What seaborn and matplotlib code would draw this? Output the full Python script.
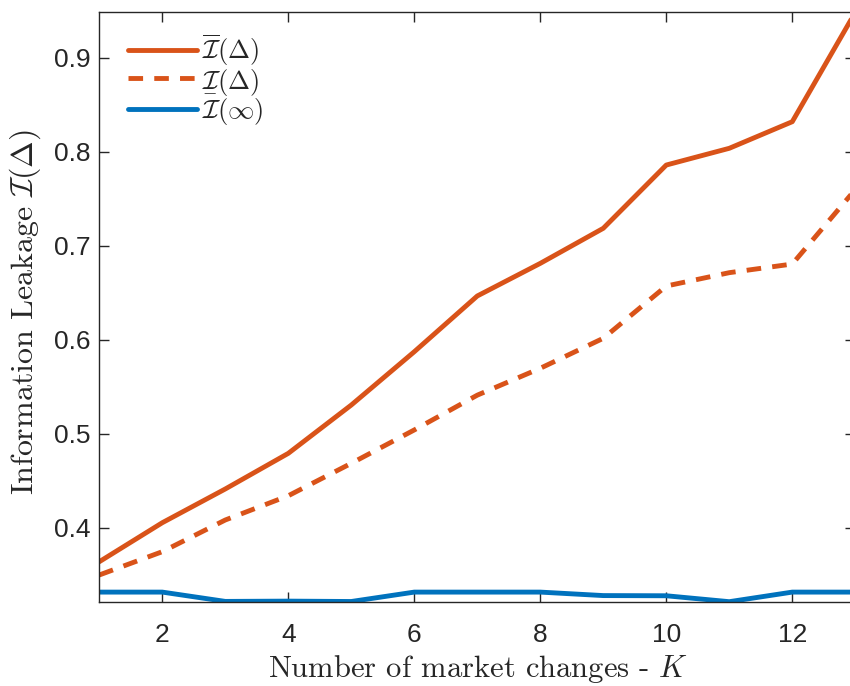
import matplotlib
matplotlib.use("Agg")
import matplotlib.pyplot as plt
from matplotlib.mathtext import MathTextParser
import numpy as np
import pandas as pd
import seaborn as sns

# Number of market changes K
k_values = list(range(1, 14))

# Upper bound on information leakage
leak_upper = [0.3638, 0.4053, 0.4412, 0.4791, 0.5305, 0.5872, 0.6465,
              0.6812, 0.7185, 0.7858, 0.8036, 0.8319, 0.9483]
# Lower bound on information leakage
leak_lower = [0.3497, 0.3745, 0.4082, 0.4340, 0.4685, 0.5040, 0.5410,
              0.5696, 0.6015, 0.6571, 0.6713, 0.6805, 0.7597]
# Asymptotic leakage
leak_inf = [0.3315, 0.3315, 0.3216, 0.3219, 0.3215, 0.3315, 0.3315,
            0.3315, 0.3278, 0.3276, 0.3213, 0.3315, 0.3315]

x_ticks = [2, 4, 6, 8, 10, 12]
y_ticks = [0.4, 0.5, 0.6, 0.7, 0.8, 0.9]

sns.set_theme(style="ticks")
plt.rcParams["font.family"] = ["Liberation Sans", "DejaVu Sans"]
plt.rcParams["mathtext.fontset"] = "cm"


def first_parsable(candidates):
    parser = MathTextParser("agg")
    for c in candidates:
        try:
            parser.parse(c, dpi=100)
            return c
        except Exception:
            continue
    return candidates[-1]


lower_label = first_parsable([
    r"$\underset{-}{\mathcal{I}}(\Delta)$",
    r"$\underset{\_}{\mathcal{I}}(\Delta)$",
    r"$\mathcal{I}_{-}(\Delta)$",
])
x_label = first_parsable([
    r"$\text{Number of market changes -}\ K$",
    r"$\mathrm{Number\ of\ market\ changes}$ - $K$",
])
y_label = first_parsable([
    r"$\text{Information Leakage}\ \mathcal{I}(\Delta)$",
    r"$\mathrm{Information\ Leakage}\ \mathcal{I}(\Delta)$",
])

ORANGE = "#D95319"
BLUE = "#0072BD"
AX_COLOR = "#262626"

df = pd.DataFrame({"K": k_values, "upper": leak_upper,
                   "lower": leak_lower, "inf": leak_inf})

fig = plt.figure(figsize=(8.5, 6.86), dpi=100)
ax = fig.add_axes([0.1168, 0.1229, 0.8894, 0.8592])

lw = 3.5
sns.lineplot(data=df, x="K", y="upper", ax=ax, color=ORANGE, lw=lw,
             label=r"$\overline{\mathcal{I}}(\Delta)$")
sns.lineplot(data=df, x="K", y="lower", ax=ax, color=ORANGE, lw=lw,
             label=lower_label)
sns.lineplot(data=df, x="K", y="inf", ax=ax, color=BLUE, lw=lw,
             label=r"$\mathcal{I}(\infty)$")
ax.lines[1].set_dashes([3.0, 2.3])

ax.set_xlim(min(k_values), max(k_values))
ax.set_ylim(min(leak_inf), max(leak_upper))
ax.set_xticks(x_ticks)
ax.set_yticks(y_ticks)
ax.set_xticklabels([str(t) for t in x_ticks])
ax.set_yticklabels([f"{t:.1f}" for t in y_ticks])

ax.tick_params(direction="in", length=7, width=1, colors=AX_COLOR,
               labelsize=19, top=True, right=True)
ax.tick_params(axis="x", pad=15)
ax.tick_params(axis="y", pad=6)
for sp in ax.spines.values():
    sp.set_visible(True)
    sp.set_color(AX_COLOR)
    sp.set_linewidth(1.0)

ax.set_xlabel(x_label, fontsize=22, color=AX_COLOR, labelpad=5)
ax.set_ylabel(y_label, fontsize=23, color=AX_COLOR)
ax.yaxis.set_label_coords(-0.0745, 0.4912)

leg = ax.legend(loc="upper left", frameon=False, fontsize=19,
                handlelength=2.6, handletextpad=0.2, labelspacing=0.0,
                borderaxespad=0.5, bbox_to_anchor=(0.007, 1.006))

fig.savefig("out.png", dpi=100)
